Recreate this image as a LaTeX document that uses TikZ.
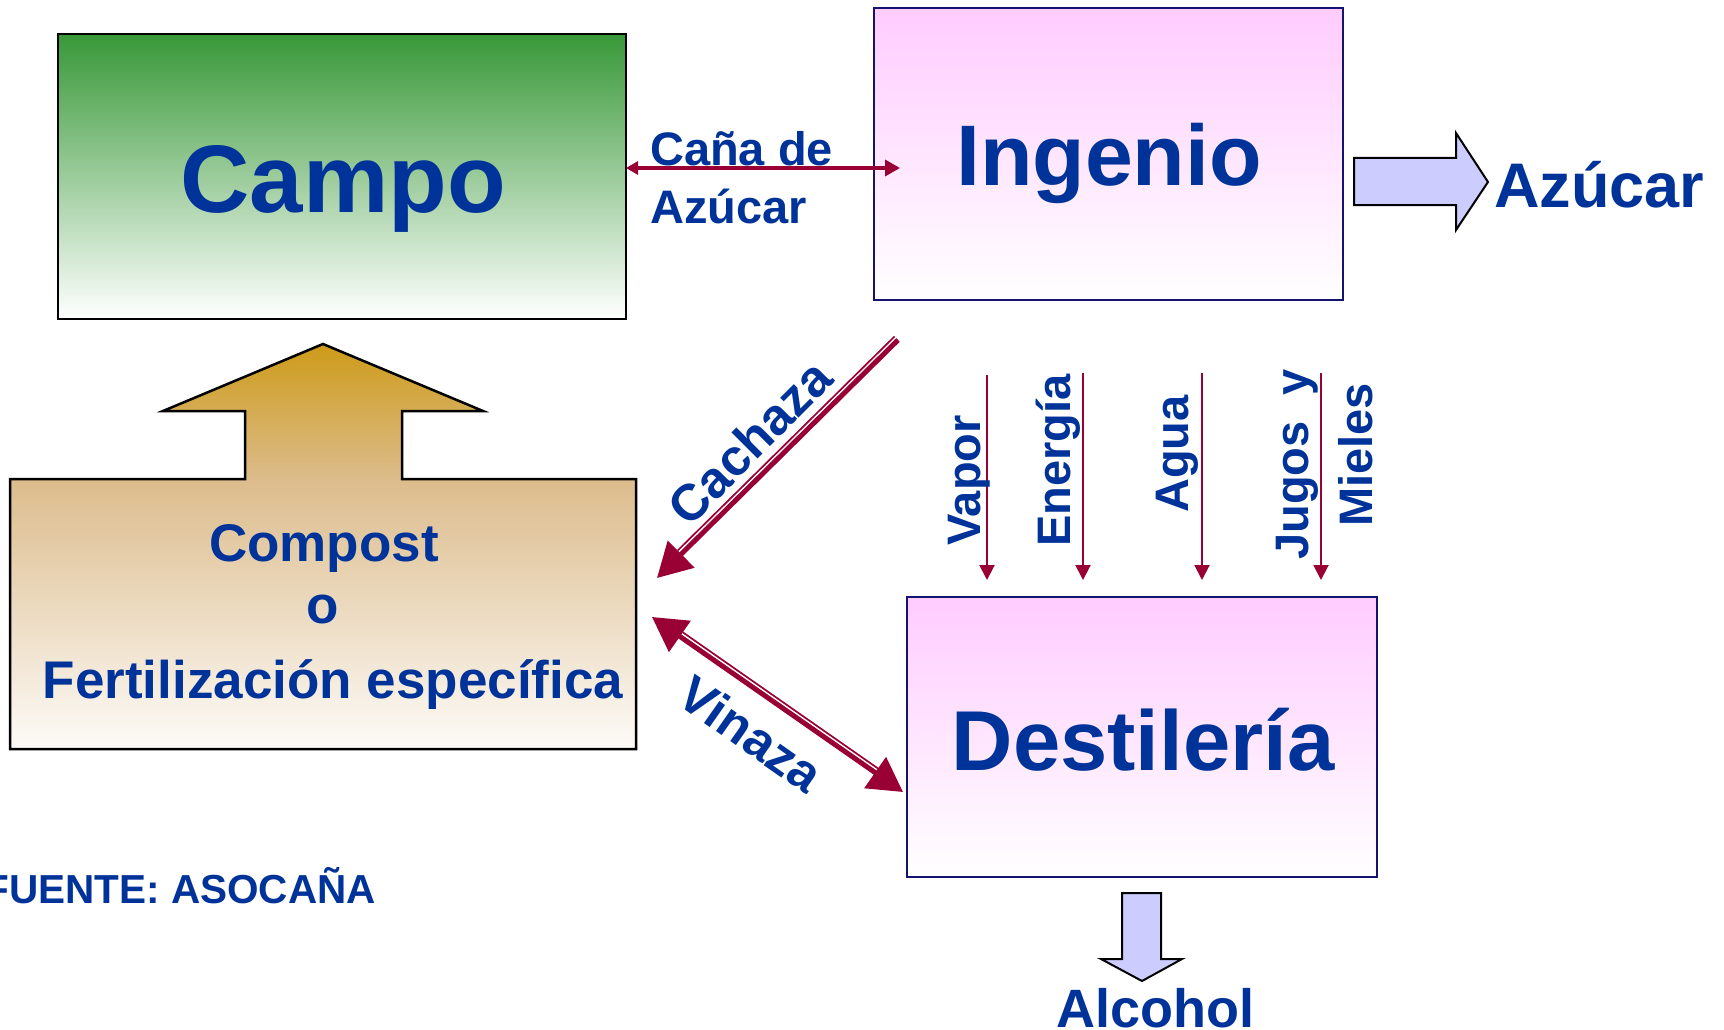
\documentclass[tikz,border=0pt]{standalone}
\usepackage{fontspec}
\setmainfont{Liberation Sans}
\usetikzlibrary{arrows.meta}
\definecolor{txtblue}{RGB}{0,51,153}
\definecolor{arrred}{RGB}{153,0,51}
\definecolor{campogreen}{RGB}{56,152,56}
\definecolor{pinktop}{RGB}{255,204,255}
\definecolor{boxnavy}{RGB}{20,20,110}
\definecolor{bigarrowfill}{RGB}{204,204,255}
\definecolor{goldtop}{RGB}{205,155,25}
\definecolor{tanmid}{RGB}{220,188,140}
\definecolor{creambot}{RGB}{253,251,248}
\pgfdeclareverticalshading{compostshade}{100bp}{color(0bp)=(creambot); color(25bp)=(creambot); color(58.33bp)=(tanmid); color(75bp)=(goldtop); color(100bp)=(goldtop)}
\newcommand\fsz[1]{\fontsize{#1}{#1}\selectfont\bfseries}
\tikzset{
  boxnode/.style={inner sep=0pt, outer sep=0pt, line width=2pt},
  lbl/.style={inner sep=0pt, text=txtblue},
  thinarrow/.style={draw=arrred, line width=2pt, -{Triangle[length=15pt,width=15pt]}},
  fatarrow/.style={draw=arrred, line width=5pt},
  thinline/.style={draw=arrred, line width=1.7pt},
  hollowarrow/.style={draw=black, fill=bigarrowfill, line width=2pt, line join=miter}
}
\begin{document}
\begin{tikzpicture}[x=1pt,y=-1pt]
\useasboundingbox (0,0) rectangle (1724,1030);
\fill[white] (0,0) rectangle (1724,1030);

% boxes
\node[boxnode, draw=black, line width=2.5pt, top color=campogreen, bottom color=white,
      minimum width=568pt, minimum height=285pt] (campo) at (342,176.5) {};
\node[boxnode, draw=boxnavy, top color=pinktop, bottom color=white,
      minimum width=469pt, minimum height=292pt] (ingenio) at (1108.5,154) {};
\node[boxnode, draw=boxnavy, top color=pinktop, bottom color=white,
      minimum width=470pt, minimum height=280pt] (dest) at (1142,737) {};

% compost arrow-box
\path[draw=black, line width=2.5pt, shading=compostshade]
  (10,479) -- (245,479) -- (245,411) -- (163,411) -- (323,344) -- (483,411)
  -- (402,411) -- (402,479) -- (636,479) -- (636,749) -- (10,749) -- cycle;

% box texts
\node[lbl, anchor=base] (campot) at (343,212) {\fsz{96}Campo};
\node[lbl, anchor=base] (ingeniot) at (1109,185) {\fsz{86}Ingenio};
\node[lbl, anchor=base] (destt) at (1143,770) {\fsz{85}Destilería};
\node[lbl, anchor=base] (comp1) at (324,561) {\fsz{53}Compost};
\node[lbl, anchor=base] (comp2) at (323,623) {\fsz{53}o};
\node[lbl, anchor=base] (comp3) at (333,698) {\fsz{53}Fertilización específica};

% Caña de Azúcar
\coordinate (c1) at (626,168);
\coordinate (c2) at (900,168);
\draw[draw=arrred, line width=3.5pt, {Triangle[length=12pt,width=13pt]}-{Triangle[length=15pt,width=16pt]}] (c1) -- (c2);
\node[lbl, anchor=base west] (cana1) at (650,165) {\fsz{47}Caña de};
\node[lbl, anchor=base west] (cana2) at (650,223) {\fsz{47}Azúcar};

% Azucar output
\path[hollowarrow] (1354,158) -- (1456,158) -- (1456,133) -- (1488,182) -- (1456,230) -- (1456,205) -- (1354,205) -- cycle;
\node[lbl, anchor=base west] (azucar) at (1494,207) {\fsz{63}Azúcar};

% Alcohol output
\path[hollowarrow] (1122,893) -- (1161,893) -- (1161,959) -- (1182,959) -- (1142,981) -- (1101,959) -- (1122,959) -- cycle;
\node[lbl, anchor=base] (alcohol) at (1155,1027) {\fsz{54}Alcohol};

% Fuente
\node[lbl, anchor=base east] (fuente) at (376,903) {\fsz{40.5}FUENTE: ASOCAÑA};

% Cachaza
\coordinate (cs) at (898,340);
\coordinate (ce) at (657,578);
\draw[thinline] (894.5,336.5) -- (677.7,550.5);
\draw[fatarrow, -{Triangle[length=34pt,width=37pt]}] (cs) -- (ce);
\node[lbl, rotate=45] (cachaza) at (750,442) {\fsz{51}Cachaza};

% Vinaza
\coordinate (va) at (652,617);
\coordinate (vb) at (903,792);
\draw[thinline] (682.8,632.3) -- (878.0,768.5);
\draw[fatarrow, {Triangle[length=34pt,width=37pt]}-{Triangle[length=34pt,width=37pt]}] (va) -- (vb);
\node[lbl, rotate=-35] (vinaza) at (751,734) {\fsz{51}Vinaza};

% vertical inputs
\coordinate (v1s) at (987,375);  \coordinate (v1e) at (987,580);
\coordinate (v2s) at (1083,373); \coordinate (v2e) at (1083,580);
\coordinate (v3s) at (1202,373); \coordinate (v3e) at (1202,580);
\coordinate (v4s) at (1321,373); \coordinate (v4e) at (1321,580);
\draw[thinarrow] (v1s) -- (v1e);
\draw[thinarrow] (v2s) -- (v2e);
\draw[thinarrow] (v3s) -- (v3e);
\draw[thinarrow] (v4s) -- (v4e);
\node[lbl, rotate=90, anchor=base west] (vapor) at (980,546) {\fsz{47}Vapor};
\node[lbl, rotate=90, anchor=base west] (energia) at (1070,547) {\fsz{47}Energía};
\node[lbl, rotate=90, anchor=base west] (agua) at (1188,513) {\fsz{47}Agua};
\node[lbl, rotate=90, anchor=base west] (jugos) at (1308,560) {\fsz{47}Jugos\ \ y};
\node[lbl, rotate=90, anchor=base west] (mieles) at (1372,527) {\fsz{47}Mieles};
\end{tikzpicture}
\end{document}
